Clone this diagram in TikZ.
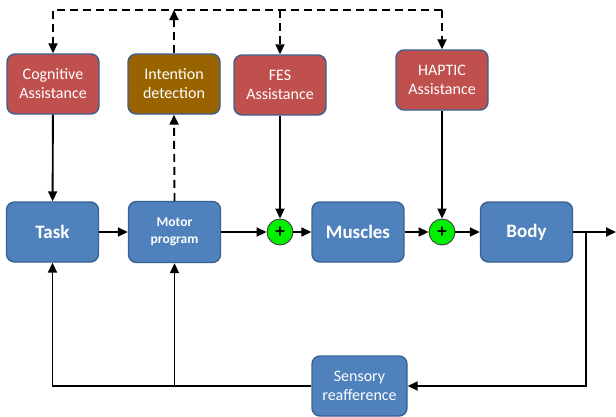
\documentclass[tikz,border=0pt]{standalone}
\usepackage{fontspec}
\setmainfont{Carlito}
\usepackage{xcolor}
\usepackage{tikz}
\usetikzlibrary{arrows.meta}
\usetikzlibrary{calc}
\definecolor{boxblue}{HTML}{4F81BD}
\definecolor{bordblue}{HTML}{3B6192}
\definecolor{boxred}{HTML}{C0504D}
\definecolor{boxbrown}{HTML}{996300}
\definecolor{sumgreen}{HTML}{00F000}
\tikzstyle{arr}=[line width=1.9pt,-{Triangle[length=10pt,width=9pt]}]
\tikzstyle{darr}=[arr,dash pattern=on 8pt off 5pt]
\tikzstyle{blk}=[draw=bordblue,line width=1.4pt,rounded corners=8pt,minimum width=92pt,minimum height=60pt,text=white,align=center,font=\fontsize{16}{19}\selectfont]
\tikzstyle{rblk}=[blk,fill=boxred]
\tikzstyle{bblk}=[blk,fill=boxblue,font=\bfseries\fontsize{19}{22}\selectfont]
\tikzstyle{sum}=[circle,draw=black!75,line width=0.9pt,fill=sumgreen,minimum size=26pt,inner sep=0pt,font=\bfseries\fontsize{19}{19}\selectfont]

\begin{document}
\begin{tikzpicture}[x=1pt,y=-1pt]
	\useasboundingbox (0,0) rectangle (616,416);
	\node[rblk] (cog) at (53,84) {Cognitive\\Assistance};
	\node[blk,fill=boxbrown] (int) at (174,84) {Intention\\detection};
	\node[rblk] (fes) at (280,85) {FES\\Assistance};
	\node[rblk] (hap) at (442,80) {HAPTIC\\Assistance};
	\node[bblk] (task) at (52.5,232) {Task};
	\node[bblk,minimum height=61pt,font=\bfseries\fontsize{13.5}{17}\selectfont] (mot) at (174.5,232) {Motor\\program};
	\node[sum] (s1) at (280,232) {+};
	\node[bblk] (mus) at (358,232) {Muscles};
	\node[sum] (s2) at (442,232) {+};
	\node[bblk] (body) at (526.5,232) {Body};
	\node[blk,fill=boxblue,minimum width=95pt] (sens) at (359.5,386) {Sensory\\reafference};
	\coordinate (top) at (174,10);
	\coordinate (out) at (616,232);
	\coordinate (br) at (586,232);
	\coordinate (j) at (mot |- sens);
	\draw[darr] (hap.north |- top) -| (cog.north);
	\draw[darr] (fes.north |- top) -- (fes.north);
	\draw[darr] (hap.north |- top) -- (hap.north);
	\draw[darr] (int.north) -- (top);
	\draw[darr] (mot.north) -- (int.south);
	\draw[arr] (cog) -- (task);
	\draw[arr] (fes) -- (s1);
	\draw[arr] (hap) -- (s2);
	\draw[arr] (task) -- (mot);
	\draw[arr] (mot) -- (s1);
	\draw[arr] (s1) -- (mus);
	\draw[arr] (mus) -- (s2);
	\draw[arr] (s2) -- (body);
	\draw[arr] (body) -- (out);
	\draw[arr] (br) |- (sens);
	\draw[arr] (sens) -| (task);
	\draw[arr] (j) -- (mot);
\end{tikzpicture}
\end{document}
